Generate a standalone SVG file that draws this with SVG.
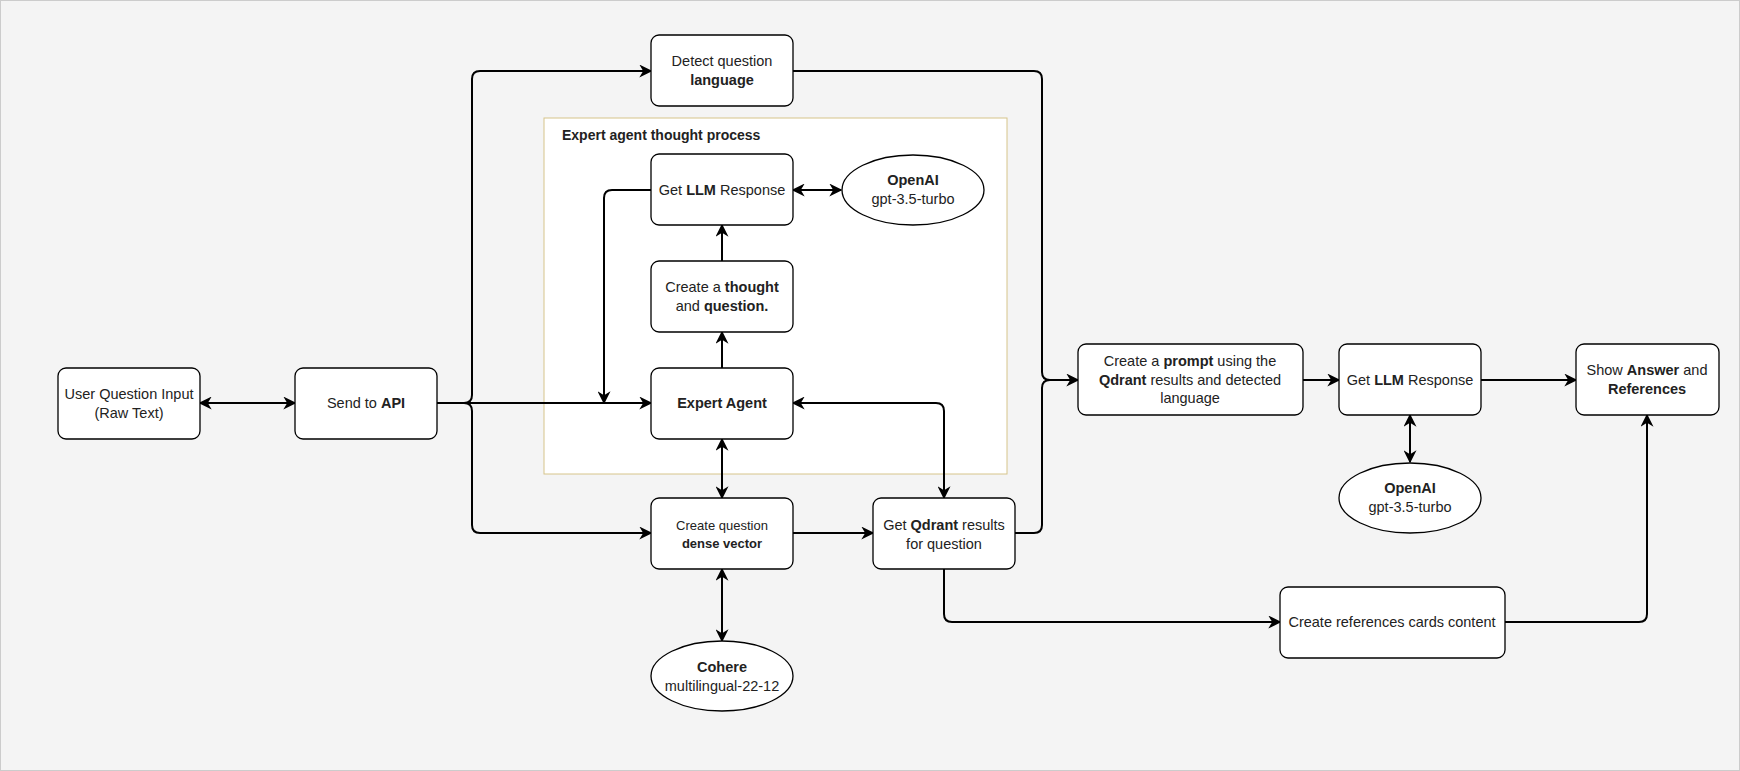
<svg xmlns="http://www.w3.org/2000/svg" width="1740" height="771" viewBox="0 0 1740 771">
<style>
.n{fill:#fff;stroke:#000;stroke-width:1.3}
text{font-family:"Liberation Sans",Arial,sans-serif;font-size:14.5px;fill:#222;text-anchor:middle}
.b{font-weight:bold}
.c path{fill:none;stroke:#000;stroke-width:2}
</style>
<defs>
<marker id="a" viewBox="0 0 10 10" refX="9" refY="5" markerWidth="13" markerHeight="13" orient="auto-start-reverse" markerUnits="userSpaceOnUse">
<path d="M0,0 L10,5 L0,10 L3,5 Z" fill="#000"/>
</marker>
</defs>
<rect x="0.5" y="0.5" width="1739" height="770" fill="#f4f4f4" stroke="#ccc"/>
<g id="group"><rect x="544" y="118" width="463" height="356" fill="#fff" stroke="#d6c48a"/>
<text x="562" y="140" class="b" style="text-anchor:start;font-size:14px">Expert agent thought process</text></g>
<g class="c">
<path d="M437,403 H651" marker-end="url(#a)"/>
<path d="M437,403 H464 Q472,403 472,395 V79 Q472,71 480,71 H651" marker-end="url(#a)"/>
<path d="M437,403 H464 Q472,403 472,411 V525 Q472,533 480,533 H651" marker-end="url(#a)"/>
<path d="M200,403 H295" marker-start="url(#a)" marker-end="url(#a)"/>
<path d="M651,190 H612 Q604,190 604,198 V403" marker-end="url(#a)"/>
<path d="M793,190 H841" marker-start="url(#a)" marker-end="url(#a)"/>
<path d="M722,261 V225" marker-end="url(#a)"/>
<path d="M722,368 V332" marker-end="url(#a)"/>
<path d="M722,439 V498" marker-start="url(#a)" marker-end="url(#a)"/>
<path d="M722,569 V641" marker-start="url(#a)" marker-end="url(#a)"/>
<path d="M793,533 H873" marker-end="url(#a)"/>
<path d="M793,403 H936 Q944,403 944,411 V498" marker-start="url(#a)" marker-end="url(#a)"/>
<path d="M793,71 H1034 Q1042,71 1042,79 V372 Q1042,380 1050,380 H1078" marker-end="url(#a)"/>
<path d="M1015,533 H1034 Q1042,533 1042,525 V388 Q1042,380 1050,380"/>
<path d="M944,569 V614 Q944,622 952,622 H1280" marker-end="url(#a)"/>
<path d="M1505,622 H1639 Q1647,622 1647,614 V415" marker-end="url(#a)"/>
<path d="M1303,380 H1339" marker-end="url(#a)"/>
<path d="M1481,380 H1576" marker-end="url(#a)"/>
<path d="M1410,415 V462" marker-start="url(#a)" marker-end="url(#a)"/>
</g>
<g id="user"><rect class="n" x="58" y="368" width="142" height="71" rx="8"/><text x="129" y="399">User Question Input</text><text x="129" y="418">(Raw Text)</text></g>
<g id="api"><rect class="n" x="295" y="368" width="142" height="71" rx="8"/><text x="366" y="408">Send to <tspan class="b">API</tspan></text></g>
<g id="detect"><rect class="n" x="651" y="35" width="142" height="71" rx="8"/><text x="722" y="66">Detect question</text><text x="722" y="85" class="b">language</text></g>
<g id="llm1"><rect class="n" x="651" y="154" width="142" height="71" rx="8"/><text x="722" y="195">Get  <tspan class="b">LLM</tspan> Response</text></g>
<g id="openai1"><ellipse class="n" cx="913" cy="190" rx="71" ry="35"/><text x="913" y="185" class="b">OpenAI</text><text x="913" y="204">gpt-3.5-turbo</text></g>
<g id="thought"><rect class="n" x="651" y="261" width="142" height="71" rx="8"/><text x="722" y="292">Create a <tspan class="b">thought</tspan></text><text x="722" y="311">and <tspan class="b">question.</tspan></text></g>
<g id="expert"><rect class="n" x="651" y="368" width="142" height="71" rx="8"/><text x="722" y="408" class="b">Expert Agent</text></g>
<g id="dense"><rect class="n" x="651" y="498" width="142" height="71" rx="8"/><text x="722" y="530" style="font-size:13px">Create question</text><text x="722" y="548" class="b" style="font-size:13px">dense vector</text></g>
<g id="cohere"><ellipse class="n" cx="722" cy="676" rx="71" ry="35"/><text x="722" y="672" class="b">Cohere</text><text x="722" y="691">multilingual-22-12</text></g>
<g id="qdrant"><rect class="n" x="873" y="498" width="142" height="71" rx="8"/><text x="944" y="530">Get <tspan class="b">Qdrant</tspan> results</text><text x="944" y="549">for question</text></g>
<g id="prompt"><rect class="n" x="1078" y="344" width="225" height="71" rx="8"/><text x="1190" y="366">Create a <tspan class="b">prompt</tspan> using the</text><text x="1190" y="385"><tspan class="b">Qdrant</tspan> results and detected</text><text x="1190" y="403">language</text></g>
<g id="llm2"><rect class="n" x="1339" y="344" width="142" height="71" rx="8"/><text x="1410" y="385">Get  <tspan class="b">LLM</tspan> Response</text></g>
<g id="openai2"><ellipse class="n" cx="1410" cy="498" rx="71" ry="35"/><text x="1410" y="493" class="b">OpenAI</text><text x="1410" y="512">gpt-3.5-turbo</text></g>
<g id="show"><rect class="n" x="1576" y="344" width="143" height="71" rx="8"/><text x="1647" y="375">Show <tspan class="b">Answer</tspan> and</text><text x="1647" y="394" class="b">References</text></g>
<g id="refs"><rect class="n" x="1280" y="587" width="225" height="71" rx="8"/><text x="1392" y="627">Create references cards content</text></g>
</svg>
